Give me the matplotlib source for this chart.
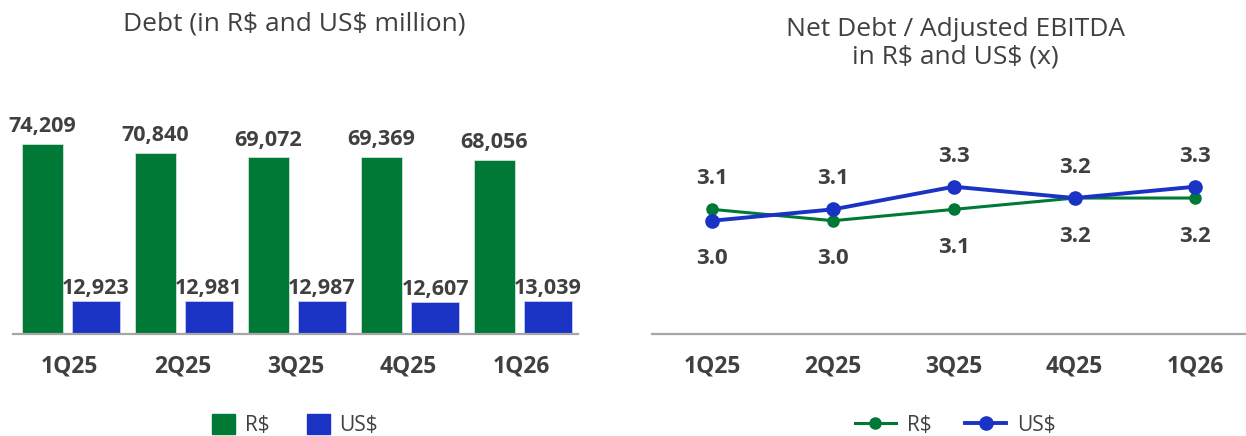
import matplotlib
matplotlib.use('Agg')
import matplotlib.pyplot as plt
import numpy as np
from matplotlib.patches import Patch

# Data
quarters = ['1Q25', '2Q25', '3Q25', '4Q25', '1Q26']
debt_brl = [74209, 70840, 69072, 69369, 68056]
debt_usd = [12923, 12981, 12987, 12607, 13039]
lev_brl = [3.1, 3.0, 3.1, 3.2, 3.2]
lev_usd = [3.0, 3.1, 3.3, 3.2, 3.3]

GREEN = '#007836'
BLUE = '#1a33c4'
TEXT = '#404040'
AXIS = '#a6a6a6'

plt.rcParams['font.family'] = ['Open Sans', 'DejaVu Sans']

W, H = 1246, 436
fig = plt.figure(figsize=(W / 100, H / 100), dpi=100)

# ── Left: debt bars ──────────────────────────────────────────────────────────
ax1 = fig.add_axes([13 / W, (H - 334) / H, 565 / W, 204.6 / H])
x = np.arange(len(quarters))
b1 = ax1.bar(x - 0.239, debt_brl, width=0.37, color=GREEN,
             edgecolor='#cfe3d6', linewidth=0.6, label='R\\$')
b2 = ax1.bar(x + 0.235, debt_usd, width=0.425, color=BLUE,
             edgecolor='#c8cdf0', linewidth=0.6, label='US\\$')
for rect, v in zip(b1, debt_brl):
    ax1.annotate(f'{v:,}', (rect.get_x() + rect.get_width() / 2, v),
                 xytext=(0, 8.5), textcoords='offset points', ha='center',
                 va='baseline', fontsize=15.5, fontweight='bold', color=TEXT)
for rect, v in zip(b2, debt_usd):
    ax1.annotate(f'{v:,}', (rect.get_x() + rect.get_width() / 2, v),
                 xytext=(0, 5), textcoords='offset points', ha='center',
                 va='baseline', fontsize=15.5, fontweight='bold', color=TEXT)
ax1.set_xlim(-0.5, 4.5)
ax1.set_ylim(0, 80000)

# ── Right: leverage lines ────────────────────────────────────────────────────
ax2 = fig.add_axes([652 / W, (H - 334) / H, 594 / W, 226.6 / H])
ax2.plot(x, lev_brl, color=GREEN, lw=2.2, marker='o', markersize=8,
         label='R\\$', zorder=3)
ax2.plot(x, lev_usd, color=BLUE, lw=2.8, marker='o', markersize=9.5,
         label='US\\$', zorder=4)
for i in x:
    g, b = lev_brl[i], lev_usd[i]
    hi, lo = max(g, b), min(g, b)
    ax2.annotate(f'{hi:.1f}', (i, hi), xytext=(0, 18), textcoords='offset points',
                 ha='center', va='baseline', fontsize=16, fontweight='bold', color=TEXT)
    ax2.annotate(f'{lo:.1f}', (i, lo), xytext=(0, -31.5), textcoords='offset points',
                 ha='center', va='baseline', fontsize=16, fontweight='bold', color=TEXT)
ax2.set_xlim(-0.5, 4.42)
ax2.set_ylim(2.0, 4.0)

for ax in (ax1, ax2):
    for s in ('top', 'right', 'left'):
        ax.spines[s].set_visible(False)
    ax.spines['bottom'].set_color(AXIS)
    ax.spines['bottom'].set_linewidth(1.6)
    ax.set_yticks([])
    ax.set_xticks(x)
    ax.set_xticklabels(quarters, fontsize=16.5, fontweight='bold', color=TEXT)
    ax.tick_params(axis='x', length=0, pad=15)
    ax.patch.set_visible(False)

# ── Titles ───────────────────────────────────────────────────────────────────
fig.text(294 / W, 1 - 24 / H, 'Debt (in R\\$ and US\\$ million)', ha='center',
         va='center', fontsize=19, color=TEXT)
fig.text(955 / W, 1 - 43 / H, 'Net Debt / Adjusted EBITDA\nin R\\$ and US\\$ (x)',
         ha='center', va='center', fontsize=19, color=TEXT, linespacing=1.15)

# ── Legends ──────────────────────────────────────────────────────────────────
fig.legend(handles=[Patch(color=GREEN, label='R\\$'), Patch(color=BLUE, label='US\\$')],
           loc='center', bbox_to_anchor=(295 / W, 1 - 425 / H), ncol=2,
           frameon=False, fontsize=15, handlelength=1.1, handleheight=1.1,
           handletextpad=0.45, columnspacing=1.8, labelcolor=TEXT)
h, l = ax2.get_legend_handles_labels()
fig.legend(h, l, loc='center', bbox_to_anchor=(955 / W, 1 - 425 / H), ncol=2,
           frameon=False, fontsize=15, handlelength=2.0, handletextpad=0.5,
           columnspacing=1.6, labelcolor=TEXT)

fig.savefig('out.png', dpi=100)
